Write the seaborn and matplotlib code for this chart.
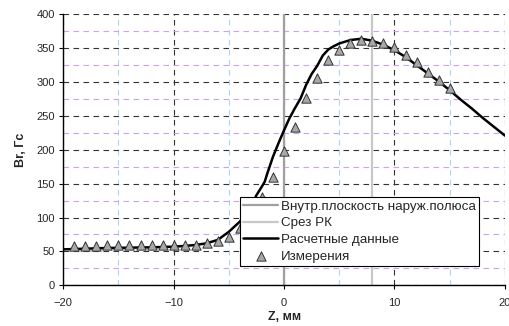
import numpy as np
import pandas as pd
import matplotlib
matplotlib.use("Agg")
import matplotlib.pyplot as plt
import seaborn as sns
from matplotlib.ticker import MultipleLocator

# Расчетные данные (Z, мм -> Br, Гс)
calc_z = [-20, -18, -16, -14, -12, -10, -9, -8, -7, -6, -5, -4, -3, -2.5, -2, -1.75,
          -1.5, -1, -0.5, 0, 0.5, 1, 1.5, 2, 2.5, 3, 3.5, 4, 4.5, 5, 6, 7, 8, 9,
          10, 11, 12, 13, 14, 15, 16, 17, 18, 19, 20]
calc_br = [53, 54, 55, 55.5, 56, 57, 58, 59.5, 62, 67, 79, 94, 116, 133, 146, 153,
           166, 190, 210, 229, 247, 262, 276, 296, 312, 324, 339, 348, 353, 357, 362, 364, 361, 355,
           347, 337, 325, 313, 301, 288, 274, 261, 247, 234, 221]

# Измерения
meas_z = list(range(-19, 16))
meas_br = [58, 58, 58, 59, 59, 59, 59, 59, 59, 60, 60, 60, 62, 66, 71, 84, 105, 130,
           160, 198, 233, 277, 306, 332, 347, 357, 362, 360, 357, 352, 340, 329, 315, 303, 291]

# Положение вертикальных линий
pole_plane_z = 0
rk_cut_z = 8

calc = pd.DataFrame({"Z": calc_z, "Br": calc_br})
meas = pd.DataFrame({"Z": meas_z, "Br": meas_br})

sns.set_style("white")
plt.rcParams["font.family"] = ["Liberation Sans", "DejaVu Sans"]

fig = plt.figure(figsize=(5.1, 3.26), dpi=100)
ax = fig.add_axes([0.124, 0.125, 0.866, 0.831])

# сетка
ax.set_xlim(-20, 20)
ax.set_ylim(0, 400)
ax.xaxis.set_major_locator(MultipleLocator(10))
ax.yaxis.set_major_locator(MultipleLocator(50))
ax.xaxis.set_minor_locator(MultipleLocator(5))
ax.yaxis.set_minor_locator(MultipleLocator(25))
ax.grid(which="minor", axis="y", color="#c9a3f2", linestyle=(0, (5, 4)), linewidth=0.8)
ax.grid(which="minor", axis="x", color="#a9d3f7", linestyle=(0, (5, 4)), linewidth=0.8)
ax.grid(which="major", axis="both", color="#333333", linestyle=(0, (5, 4)), linewidth=0.8)
ax.set_axisbelow(True)

ax.axvline(pole_plane_z, color="#a0a0a0", linewidth=1.6, label="Внутр.плоскость наруж.полюса")
ax.axvline(rk_cut_z, color="#c8c8c8", linewidth=1.6, label="Срез РК")

sns.lineplot(data=calc, x="Z", y="Br", ax=ax, color="black", linewidth=1.8,
             label="Расчетные данные")
sns.scatterplot(data=meas, x="Z", y="Br", ax=ax, marker="^", s=45, color="#a8a8a8",
                edgecolor="#333333", linewidth=0.7, label="Измерения", zorder=3)

for side in ["top", "right"]:
    ax.spines[side].set_visible(False)
for side in ["left", "bottom"]:
    ax.spines[side].set_color("black")
    ax.spines[side].set_linewidth(1.0)

ax.tick_params(which="major", direction="out", length=3, width=0.8, color="black",
               labelsize=8, pad=3, left=True, bottom=True)
ax.tick_params(axis="x", which="major", pad=6)
ax.tick_params(which="minor", length=0)

ax.set_xlabel("Z, мм", fontsize=9, fontweight="bold", labelpad=2)
ax.set_ylabel("Br, Гс", fontsize=9, fontweight="bold", labelpad=7)

leg = ax.legend(loc="lower left", bbox_to_anchor=(0.40, 0.071), fontsize=9.6,
                frameon=True, fancybox=False, framealpha=1, edgecolor="black",
                handlelength=2.6, handletextpad=0.25, borderpad=0.25, labelspacing=0.32,
                borderaxespad=0)
leg.get_frame().set_linewidth(0.8)
leg.set_zorder(5)

fig.savefig("out.png", dpi=100)
